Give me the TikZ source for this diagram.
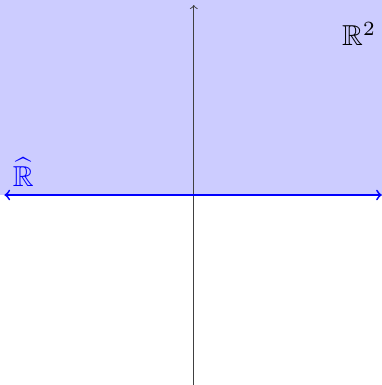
\documentclass[tikz,border=0pt]{standalone}
\usepackage{amsmath}
\usepackage{amssymb}
\usepackage{tikz}
\usetikzlibrary{positioning,calc}
\tikzset{
  halfplane/.style={fill=blue!20,draw=none},
  axisline/.style={->,black!75},
  bordline/.style={<->,blue,thick},
  planelab/.style={inner sep=1pt,scale=1.3}
}

\begin{document}
\begin{tikzpicture}
  \useasboundingbox (-3.07,-3.01) rectangle (2.98,3.09);
  \coordinate (tl) at (-3.07,3.09);
  \coordinate (br) at (2.98,0);
  \coordinate (ybot) at (0,-3.01);
  \coordinate (ytop) at (0,3.01);
  \coordinate (xl) at (-3.0,0);
  \coordinate (xr) at (2.98,0);
  \fill[halfplane] (tl) rectangle (br);
  \draw[axisline] (ybot)--(ytop);
  \draw[bordline] (xl)--(xr);
  \node[planelab,text=blue] (rhat) at (-2.7,0.36) {$\widehat{\mathbb{R}}$};
  \node[planelab] (rtwo) at (2.62,2.55) {$\mathbb{R}^2$};
\end{tikzpicture}
\end{document}
